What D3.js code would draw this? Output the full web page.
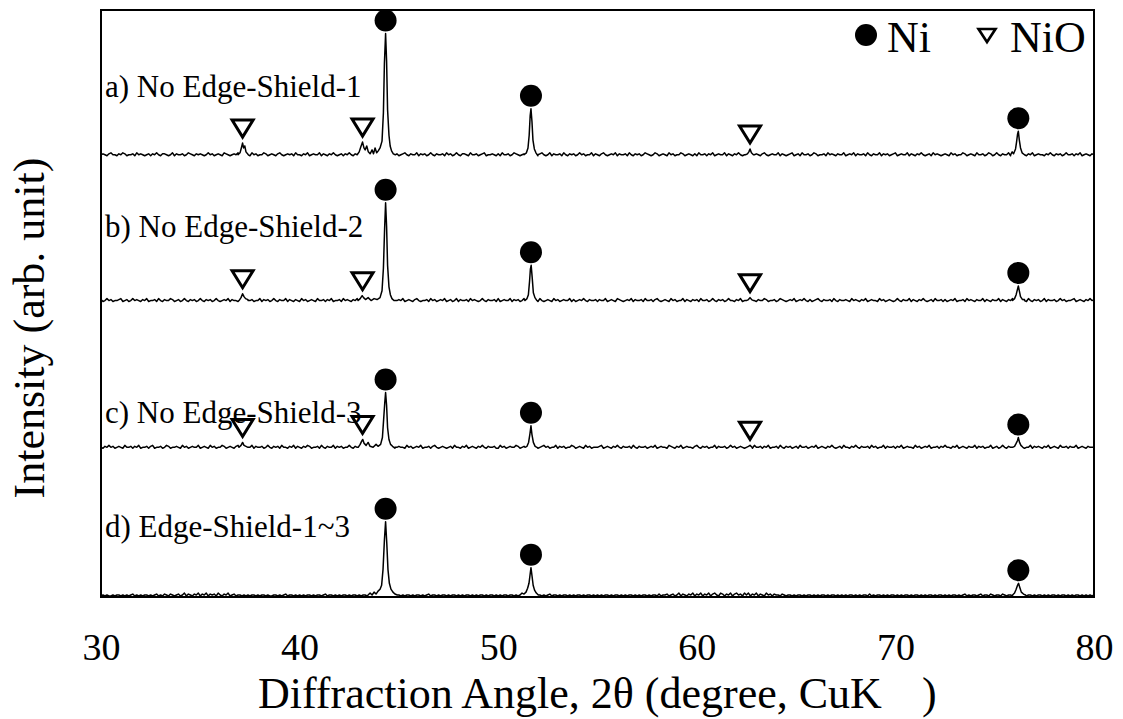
<!DOCTYPE html>
<html>
<head>
<meta charset="utf-8">
<script src="https://cdn.jsdelivr.net/npm/d3@7/dist/d3.min.js"></script>
<style>
  html, body { margin: 0; padding: 0; background: #fff; }
  svg { display: block; }
  text { font-family: "Liberation Serif", "Times New Roman", serif; fill: #000; }
</style>
</head>
<body>
<svg id="chart" width="1123" height="719"></svg>
<script>
/*global d3*/

// sample names, top to bottom
var samples = ["a) No Edge-Shield-1", "b) No Edge-Shield-2", "c) No Edge-Shield-3", "d) Edge-Shield-1~3"];
// vertical stacking offset of each pattern (arb. unit)
var offsets = [450, 301, 151, 0];

// background counts, one value every 0.1 deg from 30 to 80
var noiseA = [
  2,3,2,1,3,4,2,2,1,3,2,4,3,1,2,2,3,1,4,2,3,2,1,2,3,
  1,3,2,4,2,1,3,3,2,1,2,4,1,3,2,2,3,1,2,4,3,2,1,3,2,
  3,2,1,2,4,2,3,1,2,3,2,1,4,3,2,1,2,3,2,4,1,2,3,2,2,
  1,4,2,3,1,2,2,4,3,1,2,3,2,1,3,4,2,1,2,3,2,3,1,4,2,
  2,1,3,2,4,1,2,3,2,2,4,1,3,2,1,3,2,4,2,1,2,3,1,3,2,
  4,2,1,3,2,2,3,1,4,2,3,1,2,2,4,3,1,2,3,2,1,4,2,2,3,
  1,2,3,4,2,1,3,2,2,4,1,3,2,3,1,2,4,2,1,3,2,2,3,1,4,
  2,3,1,2,4,2,1,3,3,2,1,4,2,2,3,1,2,3,4,1,2,2,3,2,1,
  3,1,4,2,2,3,1,2,4,3,2,1,2,3,2,4,1,3,2,2,1,3,4,2,1,
  2,4,1,3,2,2,3,1,4,2,1,3,2,3,1,2,4,2,3,1,2,2,4,1,3,
  2,1,3,4,2,1,2,3,2,4,1,3,2,2,3,1,4,2,1,3,2,3,1,2,4,
  3,2,1,2,4,3,1,2,3,2,1,4,2,3,1,2,2,4,3,1,2,3,2,1,3,
  1,4,2,2,3,1,3,2,4,1,2,3,2,2,4,1,3,2,1,3,2,4,2,1,2,
  3,2,4,1,2,3,2,1,3,4,2,1,2,3,2,2,4,1,3,2,1,2,3,4,1,
  2,3,1,4,2,2,3,1,2,4,3,1,2,2,3,1,4,2,3,2,1,3,2,2,4,
  1,2,3,2,4,1,3,2,2,3,1,4,2,1,3,2,2,4,1,3,2,3,1,2,3,
  4,1,2,3,2,2,4,1,3,2,1,3,2,4,2,1,2,3,1,4,2,3,2,1,2,
  3,2,1,4,2,3,1,2,2,4,3,1,2,3,2,1,4,2,2,3,1,2,4,3,1,
  2,4,2,1,3,2,2,4,1,3,2,1,3,4,2,2,1,3,2,4,1,2,3,2,2,
  1,3,2,4,2,1,3,2,3,1,2,4,2,2,3,1,3,2,4,1,2,3,2,1,3,
  2
];
var noiseB = [
  3,1,2,4,2,3,1,2,2,3,4,1,2,3,1,2,4,2,3,2,1,3,2,4,1,
  2,2,3,1,4,2,1,3,2,2,4,3,1,2,3,1,2,4,2,1,3,2,3,1,2,
  4,2,1,3,2,3,1,2,4,2,1,2,3,2,4,1,3,2,2,1,3,4,2,1,3,
  2,3,1,2,2,4,1,3,2,3,1,2,4,2,1,3,2,2,4,1,3,2,1,3,2,
  1,4,2,3,1,2,3,2,1,4,2,2,3,1,3,2,4,1,2,2,3,1,4,2,3,
  2,1,3,2,4,2,1,3,2,2,3,4,1,2,3,2,1,3,2,4,1,2,3,2,2,
  3,2,4,1,2,3,2,1,3,4,2,1,2,2,3,1,4,2,3,1,2,3,2,4,1,
  2,3,1,2,4,1,3,2,2,3,1,4,2,3,2,1,2,4,2,1,3,2,2,3,1,
  4,1,2,3,2,2,4,1,3,2,3,1,2,4,2,1,3,2,2,3,1,4,2,1,2,
  3,2,1,4,2,3,1,2,3,2,2,4,1,3,1,2,3,2,4,2,1,3,2,2,3,
  1,3,2,2,4,1,2,3,2,1,4,3,2,1,2,3,2,4,1,3,2,2,3,1,4,
  2,2,3,1,3,4,2,1,2,3,2,1,4,2,3,1,2,2,4,1,3,2,1,3,2,
  3,1,4,2,2,3,1,2,4,2,1,3,2,3,1,2,4,2,2,1,3,2,4,1,2,
  2,4,1,3,2,1,3,2,2,4,3,1,2,2,3,1,2,4,3,2,1,2,3,2,4,
  1,2,3,2,4,2,1,3,1,2,3,4,2,1,3,2,2,3,1,4,2,1,3,2,2,
  3,2,1,4,2,3,2,1,3,2,4,1,2,3,2,2,1,4,2,3,1,2,3,2,1,
  2,4,2,1,3,2,2,4,1,3,2,1,3,2,4,2,1,2,3,1,4,2,2,3,1,
  3,1,2,3,2,4,1,2,2,3,1,4,2,3,2,1,3,2,2,4,1,3,2,1,3,
  2,2,4,1,3,2,1,3,2,4,2,1,3,2,2,3,1,4,2,1,3,2,3,1,2,
  4,1,3,2,2,3,1,2,4,2,3,1,2,2,3,4,1,2,3,2,1,3,2,4,2,
  3
];
var noiseC = [
  2,1,3,2,4,2,3,1,2,3,2,1,4,2,2,3,1,3,2,4,1,2,2,3,1,
  3,4,1,2,2,3,1,2,4,3,1,2,2,3,2,1,4,2,3,1,2,3,2,2,4,
  1,2,3,2,1,4,2,3,1,2,2,4,3,1,2,3,2,1,3,4,2,2,1,3,2,
  2,4,1,3,2,2,3,1,2,4,2,1,3,2,3,1,4,2,2,1,3,2,4,1,3,
  2,1,3,2,4,3,1,2,2,3,1,4,2,1,3,2,2,4,1,3,2,3,1,2,2,
  4,2,1,3,2,1,3,2,4,2,2,1,3,2,4,1,2,3,2,2,1,4,3,1,2,
  3,2,2,1,4,2,3,1,2,3,2,4,1,2,2,3,1,3,4,2,1,2,3,2,1,
  2,3,1,4,2,2,1,3,2,4,1,2,3,2,1,3,2,4,2,1,3,2,2,3,1,
  1,4,2,3,1,2,3,2,2,4,3,1,2,3,2,1,4,2,2,3,1,2,3,4,2,
  3,1,2,2,4,1,3,2,3,1,2,2,4,3,1,2,3,2,1,4,2,3,1,2,2,
  2,3,4,1,2,3,2,1,3,2,4,2,1,3,2,2,3,1,4,2,1,3,2,2,3,
  1,2,3,2,4,1,2,3,2,2,1,4,3,2,1,3,2,4,1,2,3,2,2,1,3,
  4,2,1,3,2,3,1,2,2,4,1,3,2,2,3,1,2,4,2,3,1,2,3,2,1,
  2,3,2,1,4,2,2,3,1,3,2,4,1,2,2,3,1,4,2,1,3,2,3,1,2,
  3,1,4,2,2,3,1,2,3,2,4,1,2,3,2,1,3,2,4,2,1,2,3,1,4,
  2,2,1,3,2,4,2,1,3,2,2,3,1,4,2,3,1,2,2,4,1,3,2,2,3,
  1,3,2,4,1,2,3,2,2,1,4,2,3,1,2,3,2,4,1,2,2,3,1,3,2,
  4,2,2,1,3,2,4,1,2,3,2,1,3,2,2,4,1,3,2,3,1,2,2,4,1,
  2,3,1,2,4,2,1,3,2,2,3,4,1,2,3,1,2,2,4,1,3,2,3,2,1,
  3,2,4,1,2,3,2,1,4,2,2,3,1,3,2,2,4,1,2,3,2,1,3,2,2,
  2
];
var noiseD = [
  1,2,1,2,1,1,2,1,2,2,1,2,1,2,1,2,3,1,2,1,2,1,2,2,1,
  2,1,2,3,1,2,1,3,2,1,3,2,1,2,3,1,2,4,1,3,2,1,3,2,4,
  1,3,2,4,1,3,2,3,1,4,2,1,3,2,4,1,2,3,1,2,2,1,2,1,2,
  1,2,2,1,2,1,2,2,1,2,1,1,2,2,1,2,1,2,3,1,2,2,1,2,1,
  2,1,2,1,2,2,1,2,1,2,2,1,2,3,1,2,2,1,2,1,2,1,2,2,1,
  2,1,2,2,1,2,1,2,2,1,3,2,1,2,3,2,1,2,2,3,2,1,2,2,1,
  2,1,2,1,2,2,1,2,1,2,2,1,2,1,2,3,1,2,2,1,2,1,2,2,1,
  2,1,2,2,1,2,1,2,1,2,2,1,2,1,2,1,2,2,1,2,1,2,2,1,2,
  1,2,1,2,2,1,2,2,1,2,1,2,2,1,2,3,2,1,2,1,2,2,1,2,1,
  2,3,1,2,2,1,2,1,2,2,1,2,1,2,1,2,2,1,2,1,2,2,1,2,1,
  2,1,2,1,2,2,1,2,1,2,2,1,2,1,2,1,2,2,1,2,1,2,1,2,2,
  1,2,1,2,2,1,3,1,2,2,3,1,2,3,1,2,4,1,3,2,1,3,2,4,1,
  3,2,4,1,3,2,4,1,3,4,2,1,4,3,1,3,2,4,1,3,4,2,3,1,4,
  2,4,1,3,2,4,1,3,2,1,4,2,3,1,3,2,2,1,3,2,1,2,2,1,2,
  1,2,2,1,2,1,2,2,1,2,1,2,1,2,2,1,2,1,2,2,1,2,1,2,1,
  2,1,2,2,1,2,1,2,1,2,2,1,3,1,2,1,2,2,1,2,1,2,1,2,2,
  1,2,1,2,1,2,2,1,2,1,2,2,1,2,1,2,1,2,2,1,2,1,2,2,1,
  2,1,2,1,2,2,1,2,1,2,3,1,2,1,2,2,1,2,3,1,2,2,1,3,2,
  1,2,2,1,3,2,1,2,2,1,2,1,2,2,1,2,1,2,2,1,2,1,2,2,1,
  2,1,2,1,2,2,1,2,1,2,2,1,2,1,2,1,2,2,1,2,1,2,1,2,1,
  2
];

// measured points around each reflection: [2theta, counts]
var peaksA = [
  [[36.9,2],[37.0,4],[37.08,10],[37.13,14],[37.18,9],[37.24,11],[37.3,5],[37.42,2]],
  [[42.9,2],[43.0,5],[43.08,10],[43.17,15],[43.24,9],[43.3,7],[43.38,11],[43.46,5],[43.55,3],[43.65,7],[43.72,3],[43.8,9],[43.88,4],[43.96,6],[44.05,9],[44.15,16],[44.22,45],[44.27,95],[44.33,126],[44.38,98],[44.43,48],[44.5,22],[44.56,11],[44.63,6],[44.72,3],[44.82,2]],
  [[51.3,2],[51.42,4],[51.5,9],[51.56,22],[51.61,42],[51.65,49],[51.7,36],[51.75,17],[51.82,8],[51.9,4],[52.0,2]],
  [[62.45,2],[62.55,3],[62.62,5],[62.68,8],[62.75,4],[62.85,2]],
  [[75.8,2],[75.88,5],[75.95,3],[76.05,8],[76.1,15],[76.15,23],[76.19,26],[76.24,17],[76.3,9],[76.38,4],[76.5,2]]
];
var peaksB = [
  [[36.95,2],[37.05,5],[37.13,9],[37.2,6],[37.28,4],[37.4,2]],
  [[42.95,2],[43.05,4],[43.15,7],[43.22,5],[43.32,3],[43.45,5],[43.6,2],[43.75,4],[43.9,3],[44.05,5],[44.15,12],[44.22,35],[44.28,75],[44.33,102],[44.38,78],[44.43,38],[44.5,16],[44.57,8],[44.65,4],[44.75,2]],
  [[51.35,2],[51.45,4],[51.52,8],[51.58,22],[51.62,34],[51.66,38],[51.71,26],[51.77,10],[51.85,5],[51.95,2]],
  [[62.5,2],[62.6,3],[62.68,5],[62.76,3],[62.86,2]],
  [[75.9,2],[76.0,4],[76.08,8],[76.14,13],[76.19,17],[76.24,12],[76.3,6],[76.4,3],[76.5,2]]
];
var peaksC = [
  [[36.95,2],[37.05,4],[37.13,7],[37.2,4],[37.3,3],[37.4,2]],
  [[42.95,2],[43.05,5],[43.12,8],[43.18,10],[43.25,6],[43.35,4],[43.45,7],[43.55,3],[43.7,2],[43.85,5],[43.95,3],[44.08,5],[44.17,12],[44.23,30],[44.29,48],[44.33,58],[44.38,45],[44.43,22],[44.5,10],[44.58,5],[44.68,3],[44.8,2]],
  [[51.35,2],[51.45,3],[51.53,7],[51.6,16],[51.65,24],[51.7,15],[51.77,7],[51.86,3],[51.95,2]],
  [[62.5,2],[62.6,3],[62.68,4],[62.78,2]],
  [[75.9,2],[76.0,3],[76.08,6],[76.15,9],[76.19,12],[76.25,7],[76.32,4],[76.42,2]]
];
var peaksD = [
  [[43.45,2],[43.55,4],[43.65,2],[43.75,5],[43.85,3],[43.95,6],[44.05,8],[44.13,12],[44.2,28],[44.27,58],[44.33,77],[44.39,55],[44.45,28],[44.52,14],[44.6,8],[44.7,5],[44.8,3],[44.92,2]],
  [[51.1,2],[51.2,4],[51.3,3],[51.4,5],[51.48,9],[51.55,14],[51.6,22],[51.65,30],[51.7,22],[51.76,12],[51.83,7],[51.92,4],[52.02,2]],
  [[75.9,2],[76.0,4],[76.08,8],[76.15,12],[76.2,14],[76.26,10],[76.34,5],[76.45,3],[76.55,2]]
];

// phase marks (2theta) per sample
var niPeaks = [44.33, 51.65, 76.19];
var nioPeaks = [37.13, 43.17, 62.68];
var nioShown = [true, true, true, false];

var xTicks = [30, 40, 50, 60, 70, 80];

var noise = [noiseA, noiseB, noiseC, noiseD];
var peaks = [peaksA, peaksB, peaksC, peaksD];

var svg = d3.select("#chart");
var frame = { left: 101, right: 1094, top: 10, bottom: 597 };

var x = d3.scaleLinear().domain([30, 80]).range([frame.left, frame.right]);
var y = d3.scaleLinear().domain([0, 600]).range([frame.bottom, frame.top]);

function buildPattern(bg, pk) {
  "use strict";
  var pts = [];
  bg.forEach(function(v, i) {
    var a = Math.round(300 + i) / 10;
    var inside = pk.some(function(p) {
      return a > p[0][0] && a < p[p.length - 1][0];
    });
    if (!inside) {
      pts.push([a, v]);
    }
  });
  pk.forEach(function(p) { pts = pts.concat(p); });
  pts.sort(function(m, n) { return m[0] - n[0]; });
  return pts;
}

function topNear(pts, angle) {
  "use strict";
  var near = pts.filter(function(p) { return Math.abs(p[0] - angle) <= 0.12; });
  return d3.max(near, function(p) { return p[1]; });
}

var patterns = noise.map(function(bg, i) { return buildPattern(bg, peaks[i]); });

var plot = svg.append("g");

patterns.forEach(function(pts, i) {
  var line = d3.line()
    .x(function(d) { return x(d[0]); })
    .y(function(d) { return y(offsets[i] + d[1]); });
  plot.append("path")
    .datum(pts)
    .attr("fill", "none")
    .attr("stroke", "#000")
    .attr("stroke-width", 1.5)
    .attr("stroke-linejoin", "round")
    .attr("d", line);
});

var tri = "M-10.5,-8L10.5,-8L0,9Z";

patterns.forEach(function(pts, i) {
  niPeaks.forEach(function(a) {
    plot.append("circle")
      .attr("cx", x(a))
      .attr("cy", y(offsets[i] + topNear(pts, a)) - 13)
      .attr("r", 11)
      .attr("fill", "#000");
  });
  if (!nioShown[i]) {
    return;
  }
  nioPeaks.forEach(function(a) {
    plot.append("path")
      .attr("d", tri)
      .attr("transform", "translate(" + x(a) + "," + (y(offsets[i] + topNear(pts, a)) - 15) + ")")
      .attr("fill", "#fff")
      .attr("stroke", "#000")
      .attr("stroke-width", 3)
      .attr("stroke-linejoin", "miter");
  });
});

// sample labels
var labelY = [97, 237, 423, 537];
samples.forEach(function(s, i) {
  svg.append("text")
    .attr("x", 105)
    .attr("y", labelY[i])
    .attr("font-size", 31)
    .text(s);
});

// legend
svg.append("circle").attr("cx", 866).attr("cy", 35).attr("r", 11).attr("fill", "#000");
svg.append("text").attr("x", 887).attr("y", 52).attr("font-size", 44).text("Ni");
svg.append("path")
  .attr("d", "M-8.5,-6L8.5,-6L0,7Z")
  .attr("transform", "translate(987,35)")
  .attr("fill", "#fff")
  .attr("stroke", "#000")
  .attr("stroke-width", 2.6);
svg.append("text").attr("x", 1010).attr("y", 52).attr("font-size", 44).text("NiO");

// frame
svg.append("rect")
  .attr("x", frame.left)
  .attr("y", frame.top)
  .attr("width", frame.right - frame.left)
  .attr("height", frame.bottom - frame.top)
  .attr("fill", "none")
  .attr("stroke", "#000")
  .attr("stroke-width", 2);

// x axis: labels only, no tick marks
var xAxis = d3.axisBottom(x).tickValues(xTicks).tickSize(0).tickPadding(0).tickFormat(d3.format("d"));
var gx = svg.append("g").attr("transform", "translate(0," + frame.bottom + ")").call(xAxis);
gx.select(".domain").remove();
gx.selectAll("text")
  .attr("dy", null)
  .attr("y", 63)
  .attr("font-size", 38)
  .attr("fill", "#000");

svg.append("text")
  .attr("x", 258)
  .attr("y", 708)
  .attr("font-size", 44)
  .text("Diffraction Angle, 2\u03b8 (degree, CuK")
  .append("tspan")
  .attr("dx", 40)
  .text(")");

svg.append("text")
  .attr("transform", "translate(44,328) rotate(-90)")
  .attr("text-anchor", "middle")
  .attr("font-size", 44)
  .text("Intensity (arb. unit)");
</script>
</body>
</html>
